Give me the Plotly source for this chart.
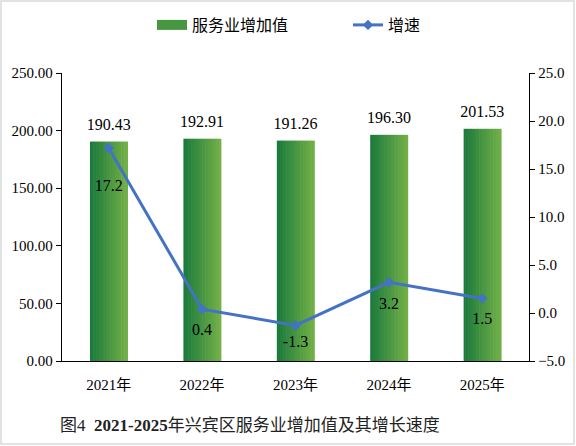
import plotly.graph_objects as go

years = ['2021年', '2022年', '2023年', '2024年', '2025年']
added_value = [190.43, 192.91, 191.26, 196.30, 201.53]
growth = [17.2, 0.4, -1.3, 3.2, 1.5]

# plot area in pixels (576x446 window)
L, R, T, B = 62, 47, 73, 85
W, H = 576 - L - R, 446 - T - B

dark = (27, 122, 60)
light = (114, 176, 71)
n_strips = 24
bar_w = 0.4
label_font = dict(size=16, color='black', family='Liberation Serif')

fig = go.Figure()

# gradient bars made of thin overlaid strips
sw = bar_w / n_strips
for i in range(n_strips):
    t = i / (n_strips - 1)
    c = tuple(round(dark[k] + (light[k] - dark[k]) * t) for k in range(3))
    fig.add_trace(go.Bar(
        x=years, y=added_value, showlegend=False, hoverinfo='skip',
        width=sw * 1.4, offset=-bar_w / 2 + i * sw,
        marker=dict(color='rgb(%d,%d,%d)' % c, line=dict(width=0)),
    ))

# value labels above the bars (hidden markers set the gap)
fig.add_trace(go.Scatter(
    x=years, y=added_value, mode='markers+text', showlegend=False,
    marker=dict(size=11, opacity=0), hoverinfo='skip',
    text=[f'{v:.2f}' for v in added_value], textposition='top center',
    textfont=label_font, cliponaxis=False,
))

# legend entry with a wide swatch like the original
fig.add_trace(go.Scatter(
    name='服务业增加值', x=[None], y=[None], mode='lines',
    line=dict(color='rgb(70,150,66)', width=10),
))

fig.add_trace(go.Scatter(
    name='增速', x=years, y=growth, yaxis='y2',
    mode='lines+markers',
    line=dict(color='#4472c4', width=3),
    marker=dict(symbol='diamond', size=8, color='#4472c4'),
    cliponaxis=False,
))

# growth labels below the points
fig.add_trace(go.Scatter(
    x=years, y=growth, yaxis='y2', mode='markers+text', showlegend=False,
    marker=dict(size=[48, 20, 13, 22, 20], opacity=0), hoverinfo='skip',
    text=[f'{v:.1f}' for v in growth], textposition='bottom center',
    textfont=label_font, cliponaxis=False,
))

fig.update_layout(
    width=576, height=446,
    margin=dict(l=L, r=R, t=T, b=B, autoexpand=False),
    barmode='overlay',
    plot_bgcolor='white', paper_bgcolor='white',
    font=dict(family='Liberation Serif, Noto Sans CJK SC', size=14, color='black'),
    showlegend=True,
    legend=dict(
        orientation='h', xref='container', yref='container',
        x=152 / 576, xanchor='left', y=1 - 25 / 446, yanchor='middle',
        font=dict(size=16, family='Noto Sans CJK SC'), itemwidth=30,
        entrywidth=151, entrywidthmode='pixels',
        traceorder='normal', bgcolor='rgba(0,0,0,0)',
    ),
    xaxis=dict(
        range=[-0.5, len(years) - 0.5],
        showline=True, linecolor='black', linewidth=1.3,
        ticks='', showgrid=False, automargin=False, ticklabelstandoff=10,
        tickfont=dict(size=15, family='Liberation Serif, Noto Sans CJK SC'),
    ),
    yaxis=dict(
        range=[0, 250], dtick=50, tickformat='.2f',
        showline=True, linecolor='black', linewidth=1.3,
        ticks='outside', ticklen=5, tickcolor='black',
        showgrid=False, zeroline=False, automargin=False,
        tickfont=dict(size=15),
    ),
    yaxis2=dict(
        range=[-5, 25], dtick=5, tickformat='.1f',
        overlaying='y', side='right',
        showline=True, linecolor='black', linewidth=1.3,
        ticks='outside', ticklen=5, tickcolor='black',
        showgrid=False, zeroline=False, automargin=False,
        tickfont=dict(size=15),
    ),
    shapes=[dict(
        type='rect', xref='paper', yref='paper',
        x0=-(L - 1) / W, x1=1 + (R - 2) / W,
        y0=-(B - 2) / H, y1=1 + (T - 1) / H,
        line=dict(color='#d9d9d9', width=1.5),
    )],
    annotations=[dict(
        xref='paper', yref='paper', x=(250 - L) / W, y=-(425 - 361) / H,
        xanchor='center', yanchor='middle', showarrow=False,
        text='图4  <b>2021-2025</b>年兴宾区服务业增加值及其增长速度',
        font=dict(size=17, color='#222222', family='Liberation Serif, Noto Sans CJK SC'),
    )],
)

fig.write_html('out.html', config={'displayModeBar': False},
               post_script="document.body.style.margin='0';")
